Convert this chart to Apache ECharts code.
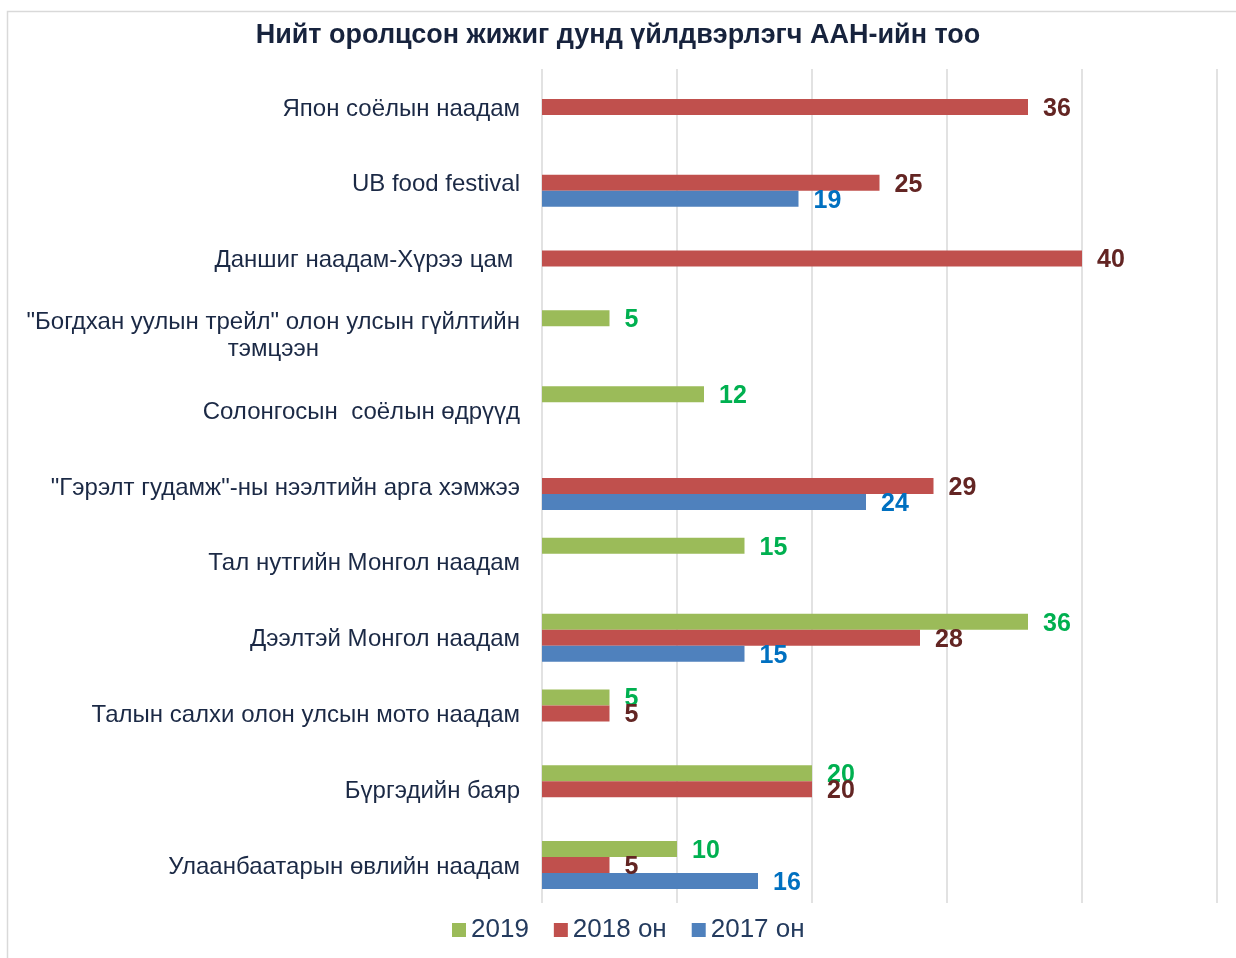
<!DOCTYPE html>
<html>
<head>
<meta charset="utf-8">
<script src="https://cdn.jsdelivr.net/npm/echarts@6/dist/echarts.min.js"></script>
<style>html,body{margin:0;padding:0;background:#fff;}#c{width:1236px;height:958px;}</style>
</head>
<body>
<div id="c"></div>
<script>
const titleText = 'Нийт оролцсон жижиг дунд үйлдвэрлэгч ААН-ийн тоо';
const categories = [
  'Япон соёлын наадам',
  'UB food festival',
  'Даншиг наадам-Хүрээ цам ',
  '"Богдхан уулын трейл" олон улсын гүйлтийн\nтэмцээн',
  'Солонгосын  соёлын өдрүүд',
  '"Гэрэлт гудамж"-ны нээлтийн арга хэмжээ',
  'Тал нутгийн Монгол наадам',
  'Дээлтэй Монгол наадам',
  'Талын салхи олон улсын мото наадам',
  'Бүргэдийн баяр',
  'Улаанбаатарын өвлийн наадам'
];
const seriesNames = ['2019', '2018 он', '2017 он'];
const values2019 = [null, null, null, 5, 12, null, 15, 36, 5, 20, 10];
const values2018 = [36, 25, 40, null, null, 29, null, 28, 5, 20, 5];
const values2017 = [null, 19, null, null, null, 24, null, 15, null, null, 16];
const xTicks = [0, 10, 20, 30, 40, 50];

const FONT = "Arial, 'Liberation Sans', sans-serif";
const barColors = ['#9BBB59', '#C0504D', '#4F81BD'];
const labelColors = ['#00B050', '#632523', '#0070C0'];
const allValues = [values2019, values2018, values2017];

const chart = echarts.init(document.getElementById('c'));
chart.setOption({
  backgroundColor: '#fff',
  animation: false,
  graphic: [{
    type: 'rect', z: -10, silent: true,
    shape: { x: 7.5, y: 11.5, width: 1300, height: 1000 },
    style: { fill: 'none', stroke: '#d9d9d9', lineWidth: 1.5 }
  }],
  title: {
    text: titleText, left: 'center', top: 17,
    textStyle: { fontFamily: FONT, fontSize: 27, fontWeight: 'bold', color: '#17233d' }
  },
  legend: {
    data: seriesNames, left: 447, top: 912,
    icon: 'rect', itemWidth: 14, itemHeight: 14, itemGap: 25,
    textStyle: { fontFamily: FONT, fontSize: 26, color: '#243b5e' }
  },
  grid: { left: 542, right: 19, top: 69, bottom: 55, containLabel: false },
  xAxis: {
    type: 'value', min: xTicks[0], max: xTicks[xTicks.length - 1], interval: 10,
    axisLine: { show: false }, axisTick: { show: false }, axisLabel: { show: false },
    splitLine: { show: true, lineStyle: { color: '#d9d9d9', width: 1.5 } }
  },
  yAxis: {
    type: 'category', data: categories, inverse: true,
    axisLine: { show: false }, axisTick: { show: false },
    axisLabel: {
      margin: 22, fontFamily: FONT, fontSize: 24, color: '#1b2945', lineHeight: 27,
      padding: [4, 0, 0, 0],
      formatter: v => '{a|' + v + '}',
      rich: { a: { align: 'center', fontFamily: FONT, fontSize: 24, color: '#1b2945', lineHeight: 27 } }
    }
  },
  series: allValues.map((vals, i) => ({
    name: seriesNames[i], type: 'bar', data: vals,
    barWidth: 16, barGap: '0%',
    itemStyle: { color: barColors[i] },
    label: {
      show: true, position: 'right', distance: 15, offset: [0, 2],
      fontFamily: FONT, fontSize: 25, fontWeight: 'bold', color: labelColors[i]
    }
  }))
});
</script>
</body>
</html>
